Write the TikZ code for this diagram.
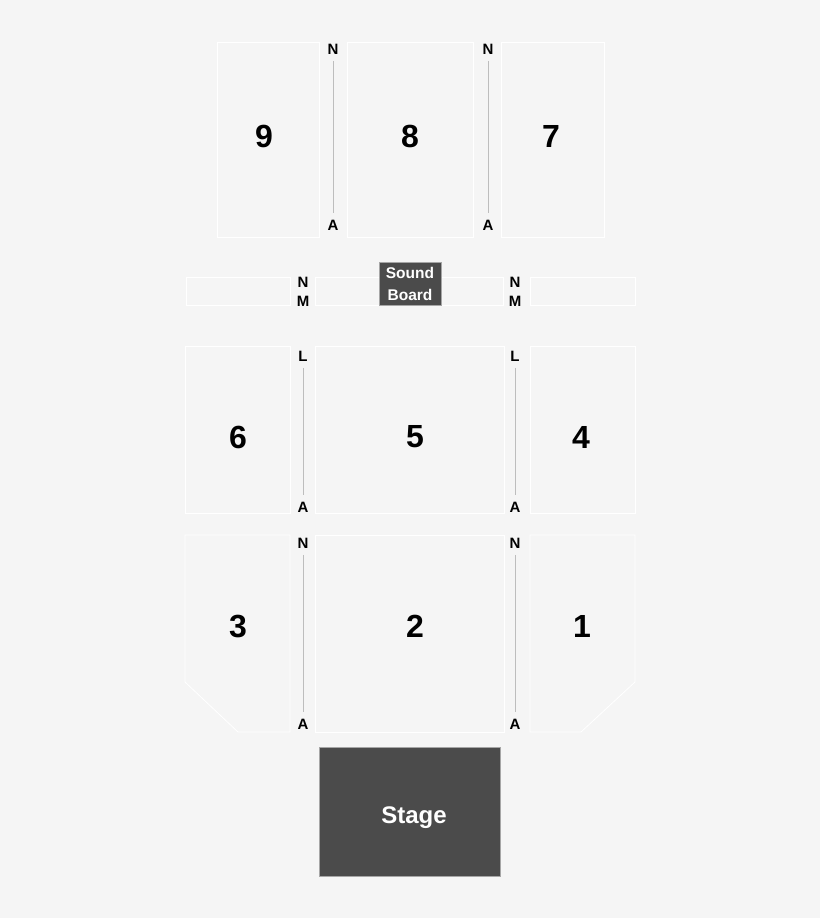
\documentclass[tikz,border=0pt]{standalone}
\usepackage{fontspec}
\setmainfont{Liberation Sans}
\definecolor{bgcol}{HTML}{F5F5F5}
\definecolor{darkcol}{HTML}{4B4B4B}
\definecolor{aislecol}{HTML}{BDBDBD}
\tikzset{section/.style = {draw=white,fill=bgcol,line width=0.8pt}}
\tikzset{num/.style = {font=\fontsize{32}{32}\selectfont\bfseries,inner sep=0pt}}
\tikzset{rowlbl/.style = {font=\fontsize{15}{15}\selectfont\bfseries,inner sep=6.5pt}}
\tikzset{aisle/.style = {draw=aislecol,line width=1pt}}
\tikzset{block/.style = {draw=gray!70,fill=darkcol,text=white,font=\bfseries}}

\begin{document}
\begin{tikzpicture}[x=1pt,y=-1pt]
  \fill[bgcol] (0,0) rectangle (820,918);
  \useasboundingbox (0,0) rectangle (820,918);

  % upper sections
  \draw[section] (217,42) rectangle (319,237);
  \draw[section] (347,42) rectangle (473,237);
  \draw[section] (501,42) rectangle (604,237);
  \node[num] (S9) at (264,136) {9};
  \node[num] (S8) at (410,136) {8};
  \node[num] (S7) at (551,136) {7};

  \node[rowlbl] (N98) at (333,49) {N};
  \node[rowlbl] (A98) at (333,225) {A};
  \node[rowlbl] (N87) at (488,49) {N};
  \node[rowlbl] (A87) at (488,225) {A};
  \path[aisle] (N98) edge (A98);
  \path[aisle] (N87) edge (A87);

  % cross row and sound board
  \draw[section] (186,277) rectangle (290,305);
  \draw[section] (315,277) rectangle (503,305);
  \draw[section] (530,277) rectangle (635,305);
  \node[rowlbl] (NL) at (303,282) {N};
  \node[rowlbl] (ML) at (303,301) {M};
  \node[rowlbl] (NR) at (515,282) {N};
  \node[rowlbl] (MR) at (515,301) {M};
  \node[block, minimum width=62, minimum height=43, align=center,
        font=\fontsize{15.5}{21.5}\selectfont\bfseries] (board) at (410,284) {Sound\\Board};

  % middle sections
  \draw[section] (185,346) rectangle (290,513);
  \draw[section] (315,346) rectangle (504,513);
  \draw[section] (530,346) rectangle (635,513);
  \node[num] (S6) at (238,437) {6};
  \node[num] (S5) at (415,437) {5};
  \node[num] (S4) at (581,437) {4};

  \node[rowlbl] (L65) at (303,356) {L};
  \node[rowlbl] (A65) at (303,507) {A};
  \node[rowlbl] (L54) at (515,356) {L};
  \node[rowlbl] (A54) at (515,507) {A};
  \path[aisle] (L65) edge (A65);
  \path[aisle] (L54) edge (A54);

  % lower sections
  \draw[section] (185,535) -- (290,535) -- (290,732) -- (238,732) -- (185,682) -- cycle;
  \draw[section] (315,535) rectangle (504,732);
  \draw[section] (530,535) -- (635,535) -- (635,682) -- (581,732) -- (530,732) -- cycle;
  \node[num] (S3) at (238,626) {3};
  \node[num] (S2) at (415,626) {2};
  \node[num] (S1) at (582,626) {1};

  \node[rowlbl] (N32) at (303,543) {N};
  \node[rowlbl] (A32) at (303,724) {A};
  \node[rowlbl] (N21) at (515,543) {N};
  \node[rowlbl] (A21) at (515,724) {A};
  \path[aisle] (N32) edge (A32);
  \path[aisle] (N21) edge (A21);

  % stage
  \node[block, minimum width=181, minimum height=129] (stage) at (410,812) {};
  \node[text=white, font=\fontsize{24}{24}\selectfont\bfseries, anchor=base] (stagelbl) at (414,823.5) {Stage};
\end{tikzpicture}
\end{document}
